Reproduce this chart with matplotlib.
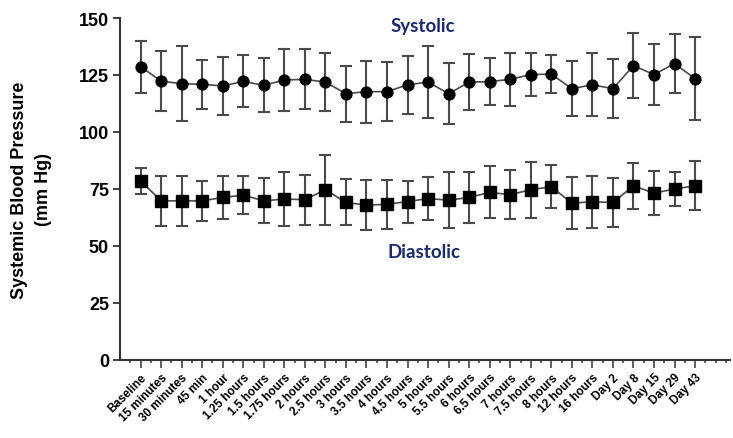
import numpy as np
import matplotlib
matplotlib.use("Agg")
import matplotlib.pyplot as plt

timepoints = ["Baseline", "15 minutes", "30 minutes", "45 min", "1 hour", "1.25 hours",
              "1.5 hours", "1.75 hours", "2 hours", "2.5 hours", "3 hours", "3.5 hours",
              "4 hours", "4.5 hours", "5 hours", "5.5 hours", "6 hours", "6.5 hours",
              "7 hours", "7.5 hours", "8 hours", "12 hours", "16 hours", "Day 2",
              "Day 8", "Day 15", "Day 29", "Day 43"]

systolic_mean = [128.7, 122.3, 121.2, 120.9, 120.2, 122.2, 120.5, 122.8, 123.1, 121.9,
                 116.8, 117.7, 117.7, 120.7, 121.9, 116.8, 121.9, 122.1, 123.1, 125.2,
                 125.4, 119.0, 120.7, 119.0, 129.1, 125.2, 130.0, 123.4]
systolic_sd = [11.4, 13.3, 16.4, 10.6, 12.6, 11.4, 11.9, 13.6, 13.2, 12.8,
               12.2, 13.6, 13.0, 12.7, 15.7, 13.3, 12.2, 10.4, 11.5, 9.6,
               8.5, 12.2, 13.8, 12.9, 14.3, 13.2, 12.9, 18.3]

diastolic_mean = [78.6, 69.8, 69.8, 69.8, 71.3, 72.3, 69.8, 70.6, 70.3, 74.7,
                  69.1, 67.9, 68.3, 69.5, 70.8, 70.1, 71.3, 73.5, 72.5, 74.7,
                  76.0, 68.8, 69.4, 69.1, 76.4, 73.2, 75.0, 76.4]
diastolic_sd = [5.6, 10.9, 10.9, 8.8, 9.3, 8.3, 9.9, 12.0, 11.0, 15.4,
                10.1, 11.1, 10.8, 9.2, 9.3, 12.2, 11.2, 11.4, 10.8, 12.3,
                9.4, 11.4, 11.5, 10.9, 10.0, 9.7, 7.4, 10.8]

yticks = [0, 25, 50, 75, 100, 125, 150]

plt.rcParams['font.family'] = ['Liberation Sans', 'DejaVu Sans']

fig = plt.figure(figsize=(7.33, 4.39), dpi=100)
ax = fig.add_axes([120/733, 1-361/439, (730-120)/733, (361-19)/439])

x = np.arange(len(timepoints))
err_kw = dict(ecolor='#4a4a4a', elinewidth=1.5, capsize=4.3, capthick=1.5)
ax.errorbar(x, systolic_mean, yerr=systolic_sd, fmt='-o', color='#4a4a4a',
            lw=1.2, markersize=7.8, markerfacecolor='black', markeredgecolor='black',
            zorder=3, **err_kw)
ax.errorbar(x, diastolic_mean, yerr=diastolic_sd, fmt='-s', color='#4a4a4a',
            lw=1.2, markersize=8.5, markerfacecolor='black', markeredgecolor='black',
            zorder=3, **err_kw)

ax.set_xlim(-1.0, 28.7)
ax.set_ylim(0, 150)
ax.set_yticks(yticks)
ax.set_yticklabels([str(v) for v in yticks], fontsize=13, fontweight='bold')
ax.set_xticks(x)
ax.set_xticklabels(timepoints, rotation=45, ha='right', rotation_mode='anchor',
                   fontsize=8.5, fontweight='bold')
minor = [v for v in np.arange(-0.5, 28.71, 0.5) if not (float(v).is_integer() and 0 <= v <= 27)]
ax.set_xticks(minor, minor=True)

for s in ['top', 'right']:
    ax.spines[s].set_visible(False)
for s in ['left', 'bottom']:
    ax.spines[s].set_linewidth(1.5)
    ax.spines[s].set_color('#333333')
    ax.spines[s].set_clip_on(False)

ax.tick_params(axis='y', direction='out', length=5, width=1.3, color='#333333', pad=3)
ax.tick_params(axis='x', which='major', direction='out', length=6, width=1.1, color='#333333', pad=2)
ax.tick_params(axis='x', which='minor', direction='out', length=2, width=1.1, color='#333333')

ax.set_ylabel("Systemic Blood Pressure\n(mm Hg)", fontsize=13, fontweight='bold',
              linespacing=1.55)
ax.yaxis.set_label_coords(-0.112, 0.5)

navy = '#1c2a6b'
ax.text(13.75, 146.5, "Systolic", color=navy, fontsize=13.5, fontweight='bold',
        family=['Lato', 'DejaVu Sans'], ha='center', va='center')
ax.text(13.8, 47.4, "Diastolic", color=navy, fontsize=13.5, fontweight='bold',
        family=['Lato', 'DejaVu Sans'], ha='center', va='center')

fig.savefig("out.png", dpi=100)
